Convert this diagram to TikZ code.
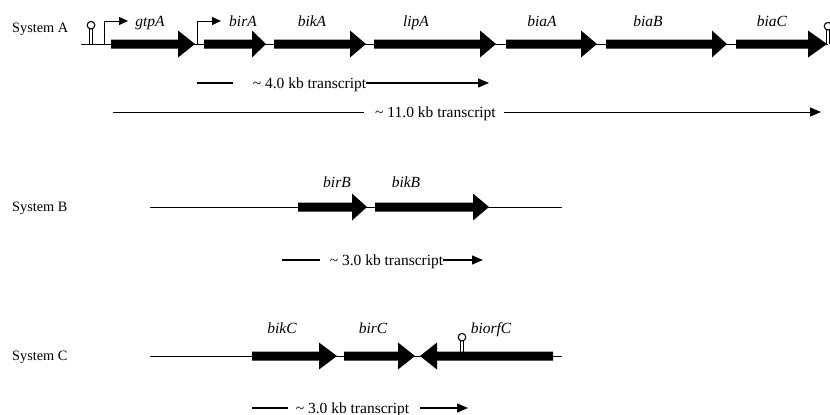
\documentclass[tikz,border=0pt]{standalone}
\usepackage{fontspec}
\setmainfont{Liberation Serif}
\usetikzlibrary{arrows.meta}

% gene arrow: body start, head base, tip, axis y
\newcommand{\genearrow}[4]{%
  \fill (#1,#4-4.5) -- (#2,#4-4.5) -- (#2,#4-13.5) -- (#3,#4)
        -- (#2,#4+13.5) -- (#2,#4+4.5) -- (#1,#4+4.5) -- cycle;}
% terminator hairpin: x, base y, stem top y
\newcommand{\hairpin}[3]{%
  \draw[line width=0.7pt] (#1-1.8,#2) -- (#1-1.8,#3) (#1+1.8,#2) -- (#1+1.8,#3);
  \draw[line width=1.1pt, fill=white] (#1,#3-3.8) circle[radius=3.8pt];}

\tikzset{
  gname/.style={font=\fontsize{15.5}{18}\selectfont\itshape, anchor=base, inner sep=0pt},
  sysname/.style={font=\fontsize{14.3}{17}\selectfont, anchor=base west, inner sep=0pt},
  tname/.style={font=\fontsize{15.5}{18}\selectfont, anchor=base, inner sep=0pt},
  backbone/.style={line width=0.8pt},
  tline/.style={line width=1.3pt},
  tarrow/.style={line width=1.3pt, -{Triangle[length=11pt,width=9pt]}},
  prom/.style={line width=0.8pt, -{Triangle[length=9pt,width=8pt]}}
}

\begin{document}
\begin{tikzpicture}[x=1pt,y=-1pt]
\useasboundingbox (0,0) rectangle (830,415);

% ---------------- System A ----------------
\node[sysname] (sysA) at (12,32) {System A};
\draw[backbone] (81,44) -- (828,44);
\hairpin{91}{44}{29}
\hairpin{828}{44}{30}
% promoters
\coordinate (pA1) at (104,44);
\coordinate (pA1t) at (128,21);
\draw[prom] (pA1) |- (pA1t);
\coordinate (pA2) at (197,44);
\coordinate (pA2t) at (221,21);
\draw[prom] (pA2) |- (pA2t);
% genes
\genearrow{111}{178}{195}{44}
\genearrow{204}{252}{266}{44}
\genearrow{274}{350}{366}{44}
\genearrow{374}{480}{496}{44}
\genearrow{506}{581}{597}{44}
\genearrow{606}{712}{727}{44}
\genearrow{736}{808}{827}{44}
\node[gname] (gtpA) at (150,27) {gtpA};
\node[gname] (birA) at (243,27) {birA};
\node[gname] (bikA) at (312,27) {bikA};
\node[gname] (lipA) at (416,27) {lipA};
\node[gname] (biaA) at (542,27) {biaA};
\node[gname] (biaB) at (648,27) {biaB};
\node[gname] (biaC) at (772,27) {biaC};

% transcripts of system A
\node[tname] (t4) at (309.5,88) {\textasciitilde\ 4.0 kb transcript};
\coordinate (t4a) at (197,83);
\coordinate (t4b) at (233,83);
\coordinate (t4c) at (366,83);
\coordinate (t4d) at (489,83);
\draw[tline] (t4a) -- (t4b);
\draw[tarrow] (t4c) -- (t4d);

\node[tname] (t11) at (435.5,117) {\textasciitilde\ 11.0 kb transcript};
\coordinate (t11a) at (113,112);
\coordinate (t11b) at (364,112);
\coordinate (t11c) at (504,112);
\coordinate (t11d) at (821,112);
\draw[line width=1pt] (t11a) -- (t11b);
\draw[tarrow, line width=1pt] (t11c) -- (t11d);

% ---------------- System B ----------------
\node[sysname] (sysB) at (12,211) {System B};
\draw[backbone] (150,207) -- (562,207);
\genearrow{298}{352}{367}{207}
\genearrow{375}{473}{489}{207}
\node[gname] (birB) at (337,187) {birB};
\node[gname] (bikB) at (406,187) {bikB};

\node[tname] (t3b) at (386.5,265) {\textasciitilde\ 3.0 kb transcript};
\coordinate (t3ba) at (282,260);
\coordinate (t3bb) at (320,260);
\coordinate (t3bc) at (443,260);
\coordinate (t3bd) at (483,260);
\draw[tline] (t3ba) -- (t3bb);
\draw[tarrow] (t3bc) -- (t3bd);

% ---------------- System C ----------------
\node[sysname] (sysC) at (12,360) {System C};
\draw[backbone] (150,356) -- (562,356);
\genearrow{252}{319}{337}{356}
\genearrow{344}{398}{415}{356}
\genearrow{553}{437}{420}{356}
\hairpin{462}{352}{341}
\node[gname] (bikC) at (282,333) {bikC};
\node[gname] (birC) at (373,333) {birC};
\node[gname] (biorfC) at (491,333) {biorfC};

\node[tname] (t3c) at (352.5,413) {\textasciitilde\ 3.0 kb transcript};
\coordinate (t3ca) at (252,408);
\coordinate (t3cb) at (288,408);
\coordinate (t3cc) at (420,408);
\coordinate (t3cd) at (468,408);
\draw[tline] (t3ca) -- (t3cb);
\draw[tarrow] (t3cc) -- (t3cd);
\end{tikzpicture}
\end{document}
